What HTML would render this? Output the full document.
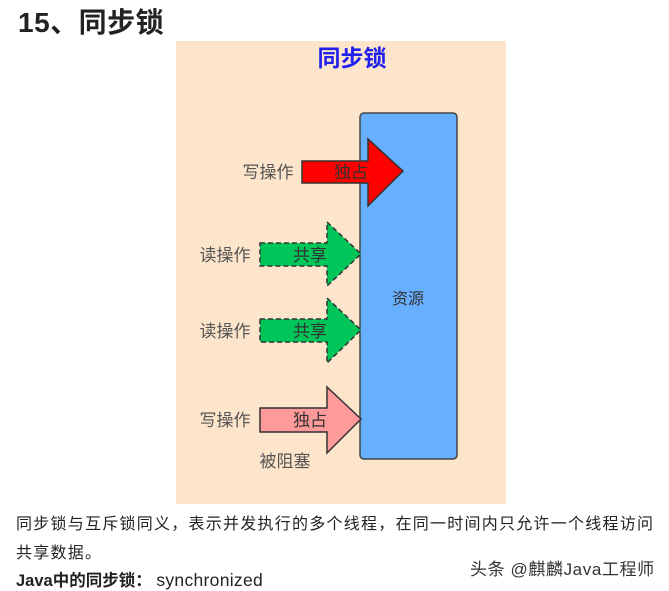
<!DOCTYPE html>
<html><head><meta charset="utf-8"><style>
html,body{margin:0;padding:0;background:#fff;width:669px;height:591px;overflow:hidden;position:relative;font-family:"Liberation Sans","Noto Sans CJK SC",sans-serif;}
.h{position:absolute;left:18px;top:1px;font-size:28px;font-weight:bold;color:#222;letter-spacing:0.5px}
.t{position:absolute;left:16px;font-size:16px;color:#222;white-space:nowrap;letter-spacing:1.25px}
</style></head><body>
<div class="h">15、同步锁</div>
<svg style="position:absolute;left:0;top:0" width="669" height="591">
<rect x="176" y="41" width="330" height="463" fill="#fde5cb"/>
<text x="352" y="66" font-size="23" font-weight="bold" fill="#2222ee" text-anchor="middle" font-family="Noto Sans CJK SC,sans-serif">同步锁</text>
<rect x="360" y="113" width="97" height="346" rx="4" fill="#66b0ff" stroke="#444" stroke-width="1.5"/>
<text x="408" y="304" font-size="16" fill="#333" text-anchor="middle" font-family="Noto Sans CJK SC,sans-serif">资源</text>
<g font-family="Noto Sans CJK SC,sans-serif" font-size="17">
<polygon points="302,161 368,161 368,139 403,171 368,206 368,183 302,183" fill="#ff0000" stroke="#333" stroke-width="1.5"/>
<text x="351" y="178" fill="#333" text-anchor="middle">独占</text>
<text x="268" y="178" fill="#555" text-anchor="middle">写操作</text>
<polygon points="260,243 327,243 327,222 361,254 327,286 327,266 260,266" fill="#00c65a" stroke="#333" stroke-width="1.5" stroke-dasharray="5,3"/>
<text x="310" y="261" fill="#333" text-anchor="middle">共享</text>
<text x="225" y="261" fill="#555" text-anchor="middle">读操作</text>
<polygon points="260,319 327,319 327,298 361,330 327,363 327,342 260,342" fill="#00c65a" stroke="#333" stroke-width="1.5" stroke-dasharray="5,3"/>
<text x="310" y="337" fill="#333" text-anchor="middle">共享</text>
<text x="225" y="337" fill="#555" text-anchor="middle">读操作</text>
<polygon points="260,408 327,408 327,387 361,419 327,453 327,432 260,432" fill="#ff9a9a" stroke="#333" stroke-width="1.5"/>
<text x="310" y="426" fill="#333" text-anchor="middle">独占</text>
<text x="225" y="426" fill="#555" text-anchor="middle">写操作</text>
<text x="285" y="467" fill="#555" text-anchor="middle">被阻塞</text>
</g>
</svg>
<div class="t" style="top:510px">同步锁与互斥锁同义，表示并发执行的多个线程，在同一时间内只允许一个线程访问</div>
<div class="t" style="top:539px">共享数据。</div>
<div class="t" style="top:567px;letter-spacing:0;font-size:16.5px"><b>Java中的同步锁：</b> <span style="font-size:17.5px;letter-spacing:0.3px">synchronized</span></div>
<div style="position:absolute;left:470px;top:555px;font-size:17px;color:#333;white-space:nowrap;letter-spacing:0.6px">头条 @麒麟Java工程师</div>
</body></html>
